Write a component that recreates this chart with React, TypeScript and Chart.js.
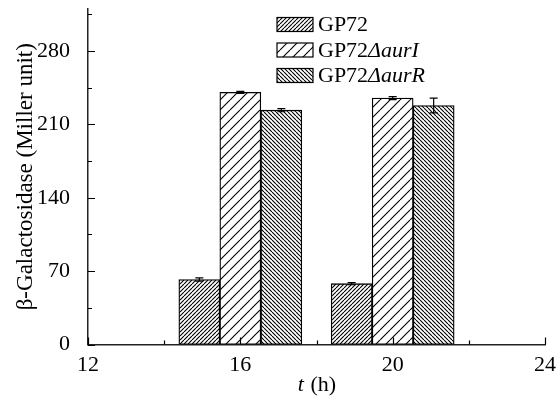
import React, { useEffect, useRef } from 'react';
import { Chart, registerables } from 'chart.js';

Chart.register(...registerables);

// ---- data ----
const times = [16, 20];
const seriesBase = ['GP72', 'GP72', 'GP72'];
const seriesItalic = ['', 'ΔaurI', 'ΔaurR'];
const gp72 = [62, 58];
const gp72AurI = [240.5, 235];
const gp72AurR = [223.5, 228];
const gp72Err = [1.5, 1];
const gp72AurIErr = [1, 1.5];
const gp72AurRErr = [1.5, 7];
const yTicks = [0, 70, 140, 210, 280];
const yMinorTicks = [35, 105, 175, 245, 315];
const xTicks = [12, 16, 20, 24];
const xMinorTicks = [14, 18, 22];
const yTitle = 'β-Galactosidase (Miller unit)';
const xTitleItalic = 't';
const xTitleRest = ' (h)';

const FONT = '"Liberation Serif", "Times New Roman", serif';

function makeHatch(s: number, dir: string, lw: number) {
  const c = document.createElement('canvas');
  c.width = s;
  c.height = s;
  const g = c.getContext('2d')!;
  g.fillStyle = '#fff';
  g.fillRect(0, 0, s, s);
  g.strokeStyle = '#000';
  g.lineWidth = lw;
  g.beginPath();
  for (let k = -1; k <= 1; k++) {
    if (dir === '/') {
      g.moveTo(k * s, s);
      g.lineTo(k * s + s, 0);
    } else {
      g.moveTo(k * s, 0);
      g.lineTo(k * s + s, s);
    }
  }
  g.stroke();
  return g.createPattern(c, 'repeat')!;
}

export default function App() {
  const ref = useRef<HTMLCanvasElement>(null);
  useEffect(() => {
    const canvas = ref.current!;
    const patterns = [makeHatch(4, '/', 1.1), makeHatch(10, '/', 1.1), makeHatch(4, '\\', 1.1)];
    const values = [gp72, gp72AurI, gp72AurR];
    const errors = [gp72Err, gp72AurIErr, gp72AurRErr];

    const decor = {
      id: 'decor',
      afterDatasetsDraw(chart: any) {
        const ctx = chart.ctx;
        const xs = chart.scales.x;
        const ys = chart.scales.y;
        ctx.save();
        // error bars
        ctx.strokeStyle = '#000';
        ctx.lineWidth = 1.2;
        chart.data.datasets.forEach((ds: any, di: number) => {
          const meta = chart.getDatasetMeta(di);
          meta.data.forEach((bar: any, i: number) => {
            const v = values[di][i];
            const e = errors[di][i];
            const yt = ys.getPixelForValue(v + e);
            const yb = ys.getPixelForValue(v - e);
            const x = bar.x;
            ctx.beginPath();
            ctx.moveTo(x, yt);
            ctx.lineTo(x, yb);
            ctx.moveTo(x - 4, yt);
            ctx.lineTo(x + 4, yt);
            ctx.moveTo(x - 4, yb);
            ctx.lineTo(x + 4, yb);
            ctx.stroke();
          });
        });
        // inward ticks
        const ca = chart.chartArea;
        ctx.lineWidth = 1.2;
        ctx.beginPath();
        yTicks.forEach((v) => {
          const y = Math.round(ys.getPixelForValue(v)) + 0.5;
          ctx.moveTo(ca.left, y);
          ctx.lineTo(ca.left + 7, y);
        });
        yMinorTicks.forEach((v) => {
          const y = Math.round(ys.getPixelForValue(v)) + 0.5;
          ctx.moveTo(ca.left, y);
          ctx.lineTo(ca.left + 4, y);
        });
        xTicks.forEach((v) => {
          const x = Math.round(xs.getPixelForValue(v)) + 0.5;
          ctx.moveTo(x, ca.bottom);
          ctx.lineTo(x, ca.bottom - 7);
        });
        xMinorTicks.forEach((v) => {
          const x = Math.round(xs.getPixelForValue(v)) + 0.5;
          ctx.moveTo(x, ca.bottom);
          ctx.lineTo(x, ca.bottom - 4);
        });
        ctx.stroke();

        // titles
        ctx.fillStyle = '#000';
        ctx.textBaseline = 'middle';
        ctx.save();
        ctx.translate(26, (ca.top + ca.bottom) / 2);
        ctx.rotate(-Math.PI / 2);
        ctx.textAlign = 'center';
        ctx.font = `23px ${FONT}`;
        ctx.fillText(yTitle, 0, 0);
        ctx.restore();

        ctx.textAlign = 'left';
        ctx.font = `italic 22px ${FONT}`;
        const w1 = ctx.measureText(xTitleItalic).width;
        ctx.font = `22px ${FONT}`;
        const w2 = ctx.measureText(xTitleRest).width;
        const cx = (ca.left + ca.right) / 2;
        const x0 = cx - (w1 + w2) / 2;
        ctx.font = `italic 22px ${FONT}`;
        ctx.fillText(xTitleItalic, x0, 385);
        ctx.font = `22px ${FONT}`;
        ctx.fillText(xTitleRest, x0 + w1 + 1, 385);

        // legend
        const rowsY = [24.5, 50, 75.5];
        seriesBase.forEach((name, i) => {
          const cy = rowsY[i];
          ctx.fillStyle = patterns[i];
          ctx.fillRect(277, cy - 7, 36, 14);
          ctx.strokeStyle = '#000';
          ctx.lineWidth = 1.2;
          ctx.strokeRect(277, cy - 7, 36, 14);
          ctx.fillStyle = '#000';
          ctx.font = `22px ${FONT}`;
          ctx.fillText(name, 318, cy + 1);
          const w = ctx.measureText(name).width;
          ctx.font = `italic 22px ${FONT}`;
          ctx.fillText(seriesItalic[i], 318 + w, cy + 1);
        });
        ctx.restore();
      },
    };

    const chart = new Chart(canvas, {
      type: 'bar',
      data: {
        datasets: values.map((vals, di) => ({
          label: seriesBase[di] + seriesItalic[di],
          data: times.map((t, i) => ({ x: t, y: vals[i] })),
          backgroundColor: patterns[di],
          borderColor: '#000',
          borderWidth: 1.3,
          borderSkipped: false,
          barThickness: 41,
        })),
      },
      options: {
        animation: false,
        responsive: false,
        maintainAspectRatio: false,
        layout: { padding: { top: 9, right: 11, left: 0, bottom: 0 } },
        plugins: { legend: { display: false }, tooltip: { enabled: false } },
        scales: {
          x: {
            type: 'linear',
            min: 12,
            max: 24,
            offset: false,
            grid: { display: false, offset: false },
            border: { display: true, color: '#222', width: 1.5 },
            ticks: { font: { family: FONT, size: 22 }, color: '#000', padding: 0, maxRotation: 0 },
            afterBuildTicks: (s: any) => {
              s.ticks = xTicks.map((v) => ({ value: v }));
            },
            afterFit: (s: any) => {
              s.height = 65.5;
              s.paddingLeft = 0;
              s.paddingRight = 0;
            },
          },
          y: {
            type: 'linear',
            min: 0,
            max: 320,
            grid: { display: false },
            border: { display: true, color: '#222', width: 1.5 },
            ticks: { font: { family: FONT, size: 22 }, color: '#000', padding: 10 },
            afterBuildTicks: (s: any) => {
              s.ticks = yTicks.map((v) => ({ value: v }));
            },
            afterFit: (s: any) => {
              s.width = 88;
              s.paddingTop = 0;
              s.paddingBottom = 0;
            },
          },
        },
      },
      plugins: [decor],
    });
    return () => chart.destroy();
  }, []);

  return (
    <div style={{ position: 'fixed', left: 0, top: 0, width: 556, height: 410, background: '#fff' }}>
      <canvas ref={ref} width={556} height={410} style={{ display: 'block', width: 556, height: 410 }} />
    </div>
  );
}
